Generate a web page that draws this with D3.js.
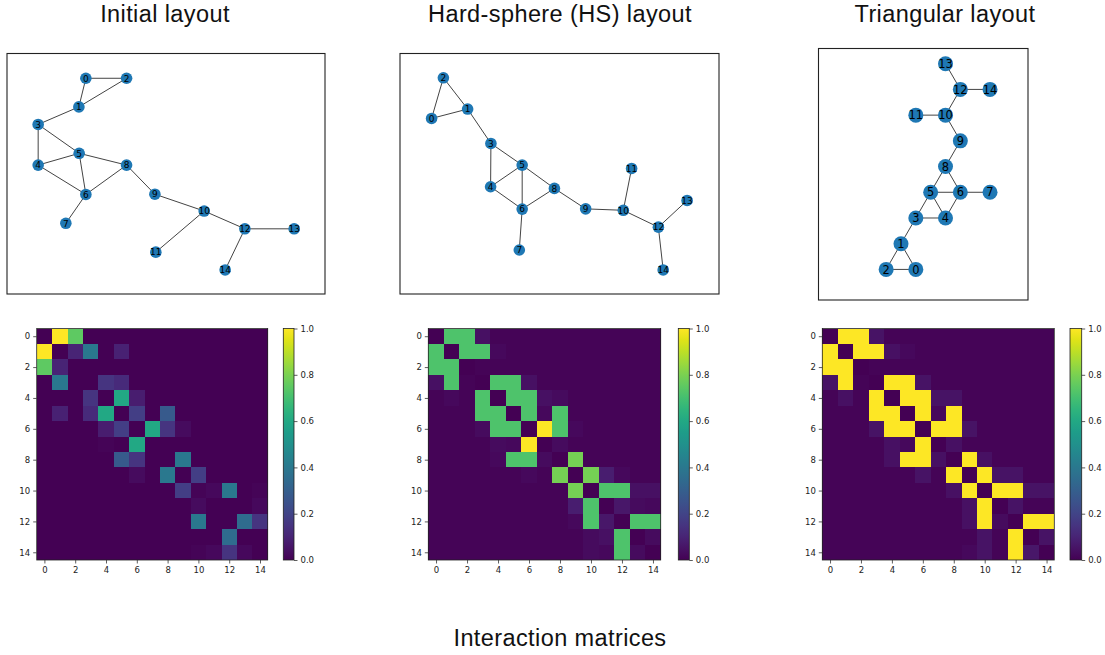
<!DOCTYPE html>
<html>
<head>
<meta charset="utf-8">
<script src="https://cdn.jsdelivr.net/npm/d3@7"></script>
<style>
  html, body { margin: 0; padding: 0; background: #fff; }
  svg { display: block; }
  text { font-family: "DejaVu Sans", sans-serif; }
  .title { font-family: "Liberation Sans", Arial, sans-serif; }
</style>
</head>
<body>
<svg id="chart" width="1105" height="655"></svg>
<script>
// ---------------- DATA ----------------
const panelTitles = ["Initial layout", "Hard-sphere (HS) layout", "Triangular layout"];
const bottomTitle = "Interaction matrices";
const nodeIds = d3.range(15);
const edges = [[0,1],[0,2],[1,2],[1,3],[3,4],[3,5],[4,5],[4,6],[5,6],[5,8],[6,8],[6,7],[8,9],[9,10],[10,11],[10,12],[12,13],[12,14]];

// node positions (fraction of frame width / height, y downward)
const initialX = [0.248,0.226,0.376,0.098,0.098,0.227,0.248,0.185,0.376,0.465,0.620,0.468,0.748,0.903,0.686];
const initialY = [0.103,0.222,0.103,0.295,0.464,0.415,0.586,0.706,0.464,0.585,0.655,0.826,0.729,0.729,0.900];
const hsX = [0.099,0.212,0.136,0.285,0.284,0.383,0.383,0.374,0.484,0.582,0.700,0.726,0.810,0.900,0.825];
const hsY = [0.270,0.231,0.101,0.374,0.554,0.464,0.647,0.817,0.561,0.646,0.652,0.478,0.722,0.611,0.900];
// triangular lattice: column in half-spacings, row index (upward)
const triCol = [2,1,0,2,4,3,5,7,4,5,4,2,5,4,7];
const triRow = [0,1,0,2,2,3,3,3,4,5,6,6,7,8,7];

const tickVals = [0,2,4,6,8,10,12,14];
const cbTicks = [0.0,0.2,0.4,0.6,0.8,1.0];

// interaction matrices (rows 0..14)
const matInitial = [
 [0,1.0,0.75,0,0,0,0,0,0,0,0,0,0,0,0],
 [1.0,0,0.10,0.40,0,0.09,0,0,0,0,0,0,0,0,0],
 [0.75,0.10,0,0,0,0,0,0,0,0,0,0,0,0,0],
 [0,0.40,0,0,0.15,0.12,0,0,0,0,0,0,0,0,0],
 [0,0,0,0.15,0,0.60,0.08,0,0,0,0,0,0,0,0],
 [0,0.09,0,0.12,0.60,0,0.18,0,0.28,0,0,0,0,0,0],
 [0,0,0,0,0.08,0.18,0,0.60,0.15,0.03,0,0,0,0,0],
 [0,0,0,0,0.01,0,0.60,0,0,0,0,0,0,0,0],
 [0,0,0,0,0,0.28,0.15,0,0,0.40,0,0,0,0,0],
 [0,0,0,0,0,0,0.03,0,0.40,0,0.18,0,0,0,0],
 [0,0,0,0,0,0,0,0,0,0.18,0.01,0.02,0.40,0,0.01],
 [0,0,0,0,0,0,0,0,0,0,0.03,0,0,0,0.02],
 [0,0,0,0,0,0,0,0,0,0,0.40,0,0,0.35,0.15],
 [0,0,0,0,0,0,0,0,0,0,0,0,0.35,0,0],
 [0,0,0,0,0,0,0,0,0,0,0.01,0.02,0.15,0.02,0]
];
const matHS = [
 [0,0.72,0.72,0.04,0.01,0.01,0.01,0.01,0.01,0.01,0.01,0.01,0.01,0.01,0.01],
 [0.72,0,0.72,0.72,0.02,0.01,0.01,0.01,0.01,0.01,0.01,0.01,0.01,0.01,0.01],
 [0.72,0.72,0,0.01,0.01,0.01,0.01,0.01,0.01,0.01,0.01,0.01,0.01,0.01,0.01],
 [0.04,0.72,0.01,0,0.72,0.72,0.04,0.01,0.01,0.01,0.01,0.01,0.01,0.01,0.01],
 [0.01,0.02,0.01,0.72,0,0.72,0.72,0.04,0.03,0.01,0.01,0.01,0.01,0.01,0.01],
 [0.01,0.01,0.01,0.72,0.72,0,0.72,0.02,0.72,0.01,0.01,0.01,0.01,0.01,0.01],
 [0.01,0.01,0.01,0.03,0.72,0.72,0,1.0,0.72,0.02,0.01,0.01,0.01,0.01,0.01],
 [0.01,0.01,0.01,0.01,0.03,0.02,1.0,0,0.03,0.01,0.01,0.01,0.01,0.01,0.01],
 [0.01,0.01,0.01,0.01,0.02,0.72,0.72,0.03,0,0.79,0.01,0.01,0.01,0.01,0.01],
 [0.01,0.01,0.01,0.01,0.01,0.01,0.02,0.01,0.79,0,0.79,0.08,0.02,0.01,0.01],
 [0.01,0.01,0.01,0.01,0.01,0.01,0.01,0.01,0.01,0.79,0,0.72,0.72,0.04,0.04],
 [0.01,0.01,0.01,0.01,0.01,0.01,0.01,0.01,0.01,0.08,0.72,0,0.06,0.03,0.02],
 [0.01,0.01,0.01,0.01,0.01,0.01,0.01,0.01,0.01,0.02,0.72,0.06,0,0.72,0.72],
 [0.01,0.01,0.01,0.01,0.01,0.01,0.01,0.01,0.01,0.01,0.03,0.04,0.72,0,0.03],
 [0.01,0.01,0.01,0.01,0.01,0.01,0.01,0.01,0.01,0.01,0.03,0.02,0.72,0.03,0]
];
const matTri = [
 [0,1,1,0.05,0.01,0.01,0.01,0.01,0.01,0.01,0.01,0.01,0.01,0.01,0.01],
 [1,0,1,1,0.04,0.02,0.01,0.01,0.01,0.01,0.01,0.01,0.01,0.01,0.01],
 [1,1,0,0.01,0.01,0.01,0.01,0.01,0.01,0.01,0.01,0.01,0.01,0.01,0.01],
 [0.05,1,0.01,0,1,1,0.05,0.01,0.01,0.01,0.01,0.01,0.01,0.01,0.01],
 [0.01,0.04,0.01,1,0,1,1,0.05,0.05,0.01,0.01,0.01,0.01,0.01,0.01],
 [0.01,0.01,0.01,1,1,0,1,0.02,1,0.01,0.01,0.01,0.01,0.01,0.01],
 [0.01,0.01,0.01,0.05,1,1,0,1,1,0.05,0.01,0.01,0.01,0.01,0.01],
 [0.01,0.01,0.01,0.01,0.04,0.02,1,0,0.04,0.01,0.01,0.01,0.01,0.01,0.01],
 [0.01,0.01,0.01,0.01,0.04,1,1,0.04,0,1,0.04,0.01,0.01,0.01,0.01],
 [0.01,0.01,0.01,0.01,0.01,0.01,0.05,0.01,1,0,1,0.05,0.05,0.01,0.01],
 [0.01,0.01,0.01,0.01,0.01,0.01,0.01,0.01,0.04,1,0,1,1,0.05,0.05],
 [0.01,0.01,0.01,0.01,0.01,0.01,0.01,0.01,0.01,0.04,1,0,0.05,0.01,0.01],
 [0.01,0.01,0.01,0.01,0.01,0.01,0.01,0.01,0.01,0.04,1,0.03,0,1,1],
 [0.01,0.01,0.01,0.01,0.01,0.01,0.01,0.01,0.01,0.01,0.05,0.01,1,0,0.05],
 [0.01,0.01,0.01,0.01,0.01,0.01,0.01,0.01,0.01,0.02,0.05,0.01,1,0.06,0]
];

// ---------------- DRAW ----------------
const svg = d3.select("#chart");
const NODE = "#1f78b4";
const color = d3.scaleSequential(d3.interpolateViridis).domain([0,1]);

// titles
const titleX = [165, 560, 945];
panelTitles.forEach((t,i) => {
  svg.append("text").attr("class","title").attr("x", titleX[i]).attr("y", 22)
    .attr("text-anchor","middle").attr("font-size", 23.5).attr("letter-spacing", 0.4)
    .attr("fill","#111").text(t);
});
svg.append("text").attr("class","title").attr("x", 560).attr("y", 646)
  .attr("text-anchor","middle").attr("font-size", 23.5).attr("letter-spacing", 0.4)
  .attr("fill","#111").text(bottomTitle);

function drawGraph(frame, xs, ys, r, fs) {
  const g = svg.append("g");
  g.append("rect").attr("x", frame.x0).attr("y", frame.y0)
    .attr("width", frame.x1 - frame.x0).attr("height", frame.y1 - frame.y0)
    .attr("fill","none").attr("stroke","#222").attr("stroke-width",1.1);
  g.selectAll("line.e").data(edges).join("line").attr("class","e")
    .attr("x1", d => xs(d[0])).attr("y1", d => ys(d[0]))
    .attr("x2", d => xs(d[1])).attr("y2", d => ys(d[1]))
    .attr("stroke","#444").attr("stroke-width",1);
  g.selectAll("circle").data(nodeIds).join("circle")
    .attr("cx", d => xs(d)).attr("cy", d => ys(d)).attr("r", r).attr("fill", NODE);
  g.selectAll("text.n").data(nodeIds).join("text").attr("class","n")
    .attr("x", d => xs(d)).attr("y", d => ys(d)).attr("dy","0.36em")
    .attr("text-anchor","middle").attr("font-size", fs).attr("fill","#000").text(d => d);
}

// panel 1
{
  const f = {x0:7, x1:325, y0:53.5, y1:294};
  const sx = d3.scaleLinear().domain([0,1]).range([f.x0, f.x1]);
  const sy = d3.scaleLinear().domain([0,1]).range([f.y0, f.y1]);
  drawGraph(f, i => sx(initialX[i]), i => sy(initialY[i]), 5.8, 9);
}
// panel 2
{
  const f = {x0:400, x1:719, y0:53.5, y1:294};
  const sx = d3.scaleLinear().domain([0,1]).range([f.x0, f.x1]);
  const sy = d3.scaleLinear().domain([0,1]).range([f.y0, f.y1]);
  drawGraph(f, i => sx(hsX[i]), i => sy(hsY[i]), 5.8, 9);
}
// panel 3 (triangular lattice, equal aspect)
{
  const f = {x0:818.5, x1:1028, y0:48.5, y1:300};
  const sx = d3.scaleLinear().domain([-2.28, 4.78]).range([f.x0, f.x1]);
  const sy = d3.scaleLinear().domain([-1.03, 7.44]).range([f.y1, f.y0]);
  drawGraph(f, i => sx(triCol[i]*0.5), i => sy(triRow[i]*Math.sqrt(3)/2), 7.5, 11.5);
}

// heatmaps
function drawHeat(mat, x0, x1, cbx0, cbx1, gid) {
  const y0 = 328.5, y1 = 560;
  const g = svg.append("g");
  const sx = d3.scaleBand().domain(nodeIds).range([x0, x1]);
  const sy = d3.scaleBand().domain(nodeIds).range([y0, y1]);
  const cells = [];
  mat.forEach((row,i) => row.forEach((v,j) => cells.push({i,j,v})));
  g.selectAll("rect.c").data(cells).join("rect").attr("class","c")
    .attr("x", d => sx(d.j)).attr("y", d => sy(d.i))
    .attr("width", d => d.j === 14 ? sx.bandwidth() : sx.bandwidth()+1)
    .attr("height", d => d.i === 14 ? sy.bandwidth() : sy.bandwidth()+1)
    .attr("fill", d => color(d.v)).attr("shape-rendering","crispEdges");
  g.append("rect").attr("x",x0).attr("y",y0).attr("width",x1-x0).attr("height",y1-y0)
    .attr("fill","none").attr("stroke","#222").attr("stroke-width",0.8);
  const xa = d3.axisBottom(d3.scalePoint().domain(nodeIds).range([x0+sx.bandwidth()/2, x1-sx.bandwidth()/2]))
    .tickValues(tickVals).tickSize(3.5).tickPadding(3);
  const ya = d3.axisLeft(d3.scalePoint().domain(nodeIds).range([y0+sy.bandwidth()/2, y1-sy.bandwidth()/2]))
    .tickValues(tickVals).tickSize(3.5).tickPadding(3);
  const gx = g.append("g").attr("transform",`translate(0,${y1})`).call(xa);
  const gy = g.append("g").attr("transform",`translate(${x0},0)`).call(ya);
  [gx,gy].forEach(a => {
    a.select(".domain").remove();
    a.selectAll("line").attr("stroke","#333").attr("stroke-width",0.8);
    a.selectAll("text").attr("font-size",8.5).attr("fill","#222").attr("font-family","DejaVu Sans");
  });
  // colorbar
  const defs = svg.append("defs");
  const grad = defs.append("linearGradient").attr("id",gid).attr("x1",0).attr("y1",1).attr("x2",0).attr("y2",0);
  d3.range(0,1.0001,0.05).forEach(t => grad.append("stop").attr("offset",t).attr("stop-color",color(t)));
  g.append("rect").attr("x",cbx0).attr("y",y0).attr("width",cbx1-cbx0).attr("height",y1-y0)
    .attr("fill",`url(#${gid})`).attr("stroke","#222").attr("stroke-width",0.8);
  const cs = d3.scaleLinear().domain([0,1]).range([y1,y0]);
  const ca = d3.axisRight(cs).tickValues(cbTicks).tickFormat(d3.format(".1f")).tickSize(3.5).tickPadding(3);
  const gc = g.append("g").attr("transform",`translate(${cbx1},0)`).call(ca);
  gc.select(".domain").remove();
  gc.selectAll("line").attr("stroke","#333").attr("stroke-width",0.8);
  gc.selectAll("text").attr("font-size",8.5).attr("fill","#222").attr("font-family","DejaVu Sans");
}
drawHeat(matInitial, 36.7, 267.7, 283.3, 294, "cb1");
drawHeat(matHS, 428.3, 660.7, 678.3, 689.3, "cb2");
drawHeat(matTri, 822.3, 1054.3, 1070, 1081.7, "cb3");
</script>
</body>
</html>
